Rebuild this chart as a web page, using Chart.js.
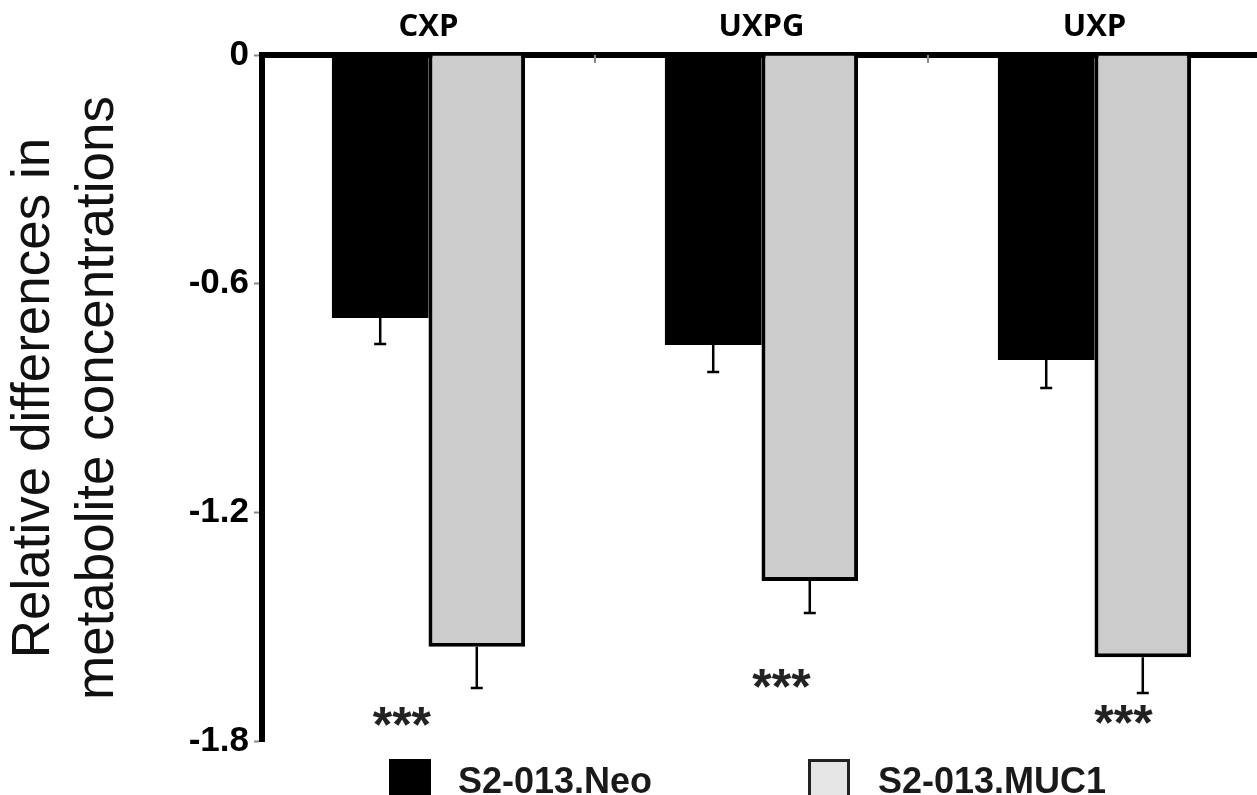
<!DOCTYPE html>
<html>
<head>
<meta charset="utf-8">
<script src="https://cdn.jsdelivr.net/npm/chart.js@4"></script>
<style>
    html, body { margin: 0; padding: 0; overflow: hidden; background: #fff; }
    #wrap { position: relative; width: 1262px; height: 795px; }
</style>
</head>
<body>
<div id="wrap"><canvas id="chart-metabolites"></canvas></div>
<script>
const categories = ["CXP", "UXPG", "UXP"]
const seriesNames = ["S2-013.Neo", "S2-013.MUC1"]
const neoValues = [-0.69, -0.761, -0.80]
const neoErrors = [0.068, 0.071, 0.074]
const mucValues = [-1.553, -1.380, -1.580]
const mucErrors = [0.108, 0.084, 0.094]
const yTicks = [0, -0.6, -1.2, -1.8]
const starLabels = ["***", "***", "***"]
const starValues = [-1.735, -1.635, -1.73]
const starShift = [-0.08, 0.06, 0.087]   // fraction of a category width

const errorBars = {
    id: "errorBars",
    afterDatasetsDraw(chart) {
        const ctx = chart.ctx
        const y = chart.scales.y
        ctx.save()
        ctx.strokeStyle = "#000"
        ctx.lineWidth = 2.5
        chart.data.datasets.forEach((ds, di) => {
            const meta = chart.getDatasetMeta(di)
            meta.data.forEach((bar, i) => {
                const y0 = y.getPixelForValue(ds.data[i])
                const y1 = y.getPixelForValue(ds.data[i] - ds.errors[i])
                ctx.beginPath()
                ctx.moveTo(bar.x, y0)
                ctx.lineTo(bar.x, y1)
                ctx.moveTo(bar.x - 6, y1)
                ctx.lineTo(bar.x + 6, y1)
                ctx.stroke()
            })
        })
        ctx.restore()
    }
}

const extras = {
    id: "extras",
    afterDraw(chart) {
        const ctx = chart.ctx
        const x = chart.scales.x
        const y = chart.scales.y
        const area = chart.chartArea
        const step = x.getPixelForTick(1) - x.getPixelForTick(0)
        ctx.save()

        // small tick marks between categories, under the top axis
        ctx.strokeStyle = "#888"
        ctx.lineWidth = 2
        for (let i = 1; i < categories.length; i++) {
            const px = (x.getPixelForTick(i - 1) + x.getPixelForTick(i)) / 2
            ctx.beginPath()
            ctx.moveTo(px, area.top)
            ctx.lineTo(px, area.top + 8)
            ctx.stroke()
        }

        // significance stars
        ctx.fillStyle = "#222"
        ctx.font = "bold 50px 'Liberation Sans', Arial, sans-serif"
        ctx.textAlign = "center"
        ctx.textBaseline = "alphabetic"
        starLabels.forEach((s, i) => {
            const m = ctx.measureText(s)
            const cx = x.getPixelForTick(i) + starShift[i] * step
            const cy = y.getPixelForValue(starValues[i])
            const off = (m.actualBoundingBoxAscent - m.actualBoundingBoxDescent) / 2
            ctx.fillText(s, cx, cy + off)
        })

        // legend
        ctx.font = "bold 36px 'Liberation Sans', Arial, sans-serif"
        ctx.textAlign = "left"
        ctx.textBaseline = "alphabetic"
        const items = [
            { box: 389, text: 458 },
            { box: 808, text: 878 }
        ]
        chart.data.datasets.forEach((ds, di) => {
            const it = items[di]
            ctx.fillStyle = ds.legendFill
            ctx.fillRect(it.box, 759, 42, 42)
            ctx.strokeStyle = di === 0 ? "#000" : "#222"
            ctx.lineWidth = 3
            ctx.strokeRect(it.box + 1.5, 760.5, 39, 39)
            ctx.fillStyle = "#1a1a1a"
            ctx.fillText(ds.label, it.text, 793)
        })
        ctx.restore()
    }
}

const ctx = document.getElementById("chart-metabolites").getContext("2d")
const chart = new Chart(ctx, {
    type: "bar",
    data: {
        labels: categories,
        datasets: [
            {
                label: seriesNames[0],
                data: neoValues,
                errors: neoErrors,
                backgroundColor: "#000",
                legendFill: "#000",
                borderWidth: 0,
                categoryPercentage: 0.58,
                barPercentage: 1.0
            },
            {
                label: seriesNames[1],
                data: mucValues,
                errors: mucErrors,
                backgroundColor: "#cccccc",
                legendFill: "#e6e6e6",
                borderColor: "#000",
                borderWidth: 4,
                categoryPercentage: 0.58,
                barPercentage: 1.0
            }
        ]
    },
    options: {
        responsive: true,
        maintainAspectRatio: false,
        animation: false,
        layout: { padding: { top: 0, right: 1, bottom: 54, left: 0 } },
        plugins: {
            legend: { display: false },
            tooltip: { enabled: false }
        },
        scales: {
            x: {
                position: "top",
                grid: { display: false, drawTicks: false },
                border: { display: true, color: "#000", width: 6 },
                ticks: {
                    color: "#000",
                    padding: 9,
                    font: { family: "'Open Sans', sans-serif", size: 31, weight: "bold" }
                },
                afterFit(scale) { scale.height = 55 }
            },
            y: {
                min: -1.8,
                max: 0,
                afterBuildTicks(scale) {
                    scale.ticks = yTicks.map((v) => ({ value: v }))
                },
                grid: {
                    drawOnChartArea: false,
                    drawTicks: true,
                    tickLength: 8,
                    tickWidth: 2,
                    tickColor: "#888"
                },
                border: { display: true, color: "#000", width: 6 },
                ticks: {
                    color: "#000",
                    padding: 5,
                    font: { family: "'Liberation Sans', Arial, sans-serif", size: 35, weight: "bold" },
                    callback: (v) => (v === 0 ? "0" : v.toFixed(1))
                },
                title: {
                    display: true,
                    text: ["Relative differences in", "metabolite concentrations"],
                    color: "#111",
                    padding: { top: 3, bottom: 0 },
                    font: { family: "'Liberation Sans', Arial, sans-serif", size: 53, lineHeight: 1.2 }
                },
                afterFit(scale) { scale.width = 262 }
            }
        }
    },
    plugins: [errorBars, extras]
})
</script>
</body>
</html>
